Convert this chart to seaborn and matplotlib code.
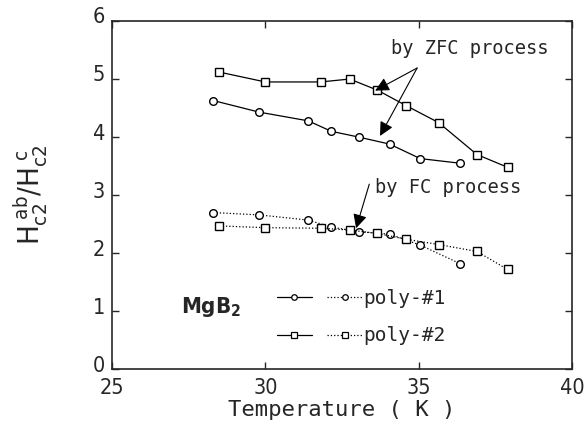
import pandas as pd
import matplotlib.pyplot as plt
import matplotlib.transforms as mtrans
import seaborn as sns
from matplotlib.lines import Line2D
from matplotlib.legend_handler import HandlerTuple

# data
temp_p1 = [28.3, 29.8, 31.4, 32.15, 33.05, 34.05, 35.05, 36.35]
zfc_p1 = [4.63, 4.43, 4.28, 4.10, 4.00, 3.88, 3.63, 3.55]
fc_p1 = [2.70, 2.66, 2.57, 2.45, 2.37, 2.33, 2.14, 1.82]

temp_p2 = [28.5, 30.0, 31.8, 32.75, 33.65, 34.6, 35.65, 36.9, 37.9]
zfc_p2 = [5.12, 4.95, 4.95, 5.00, 4.81, 4.54, 4.25, 3.70, 3.48]
fc_p2 = [2.47, 2.44, 2.43, 2.40, 2.34, 2.24, 2.15, 2.03, 1.72]

labels = ['poly-#1', 'poly-#2']
xticks = [25, 30, 35, 40]
yticks = [0, 1, 2, 3, 4, 5, 6]

sns.set_style('ticks')
plt.rcParams['font.family'] = ['DejaVu Sans']
plt.rcParams['font.stretch'] = 'condensed'
plt.rcParams['xtick.direction'] = 'in'
plt.rcParams['ytick.direction'] = 'in'
plt.rcParams['xtick.major.size'] = 5
plt.rcParams['ytick.major.size'] = 5
plt.rcParams['axes.linewidth'] = 1.2

fig = plt.figure(figsize=(5.86, 4.32), dpi=100)
ax = fig.add_axes([0.1911, 0.1451, 0.785, 0.8063])

df1 = pd.DataFrame({'T': temp_p1, 'zfc': zfc_p1, 'fc': fc_p1})
df2 = pd.DataFrame({'T': temp_p2, 'zfc': zfc_p2, 'fc': fc_p2})

mk = dict(markerfacecolor='white', markeredgecolor='black', markeredgewidth=1.0, markersize=5.5)
sns.lineplot(data=df1, x='T', y='zfc', ax=ax, color='black', lw=0.9, marker='o', **mk)
sns.lineplot(data=df1, x='T', y='fc', ax=ax, color='black', lw=0.9, marker='o', linestyle=':', **mk)
sns.lineplot(data=df2, x='T', y='zfc', ax=ax, color='black', lw=0.9, marker='s', **mk)
sns.lineplot(data=df2, x='T', y='fc', ax=ax, color='black', lw=0.9, marker='s', linestyle=':', **mk)

ax.set_xlim(25, 40)
ax.set_ylim(0, 6)
ax.set_xticks(xticks)
ax.set_yticks(yticks)
ax.tick_params(top=True, right=True, labelsize=15.5, width=1.0, pad=5)
ax.tick_params(axis='x', pad=6)
shift = mtrans.ScaledTranslation(0, 4 / 72, fig.dpi_scale_trans)
for lab in ax.get_yticklabels():
    lab.set_transform(lab.get_transform() + shift)

ax.set_xlabel('Temperature ( K )', fontsize=16, family='DejaVu Sans Mono', labelpad=2)
ax.set_ylabel(r'$\mathregular{H_{c2}^{\ ab}/H_{c2}^{\ c}}$', fontsize=21, labelpad=31)

mono = dict(family='DejaVu Sans Mono', fontsize=13.5)
ax.text(34.1, 5.52, 'by ZFC process', va='center', ha='left', **mono)
ax.text(33.58, 3.14, 'by FC process', va='center', ha='left', **mono)

arr = dict(arrowstyle='-|>', color='black', lw=0.8, mutation_scale=21, shrinkA=0, shrinkB=0)
ax.annotate('', xy=(33.58, 4.80), xytext=(34.95, 5.19), arrowprops=arr)
ax.annotate('', xy=(33.74, 4.02), xytext=(34.95, 5.19), arrowprops=arr)
ax.annotate('', xy=(32.96, 2.43), xytext=(33.39, 3.19), arrowprops=arr)

ax.text(27.25, 0.97, r'$\mathregular{MgB_2}$', fontsize=16, fontweight='bold', va='baseline')

lmk = dict(markerfacecolor='white', markeredgecolor='black', markersize=4, markeredgewidth=0.9)
h1 = (Line2D([], [], color='black', lw=0.9, marker='o', **lmk),
      Line2D([], [], color='black', lw=0.9, ls=':', marker='o', **lmk))
h2 = (Line2D([], [], color='black', lw=0.9, marker='s', **lmk),
      Line2D([], [], color='black', lw=0.9, ls=':', marker='s', **lmk))
leg = ax.legend([h1, h2], labels, handler_map={tuple: HandlerTuple(ndivide=None, pad=0.8)},
                loc='upper left', bbox_to_anchor=(0.32, 0.281), frameon=False,
                handlelength=4.4, handletextpad=0.05, labelspacing=0.95,
                prop={'family': 'DejaVu Sans Mono', 'size': 14})

plt.savefig('out.png', dpi=100)
